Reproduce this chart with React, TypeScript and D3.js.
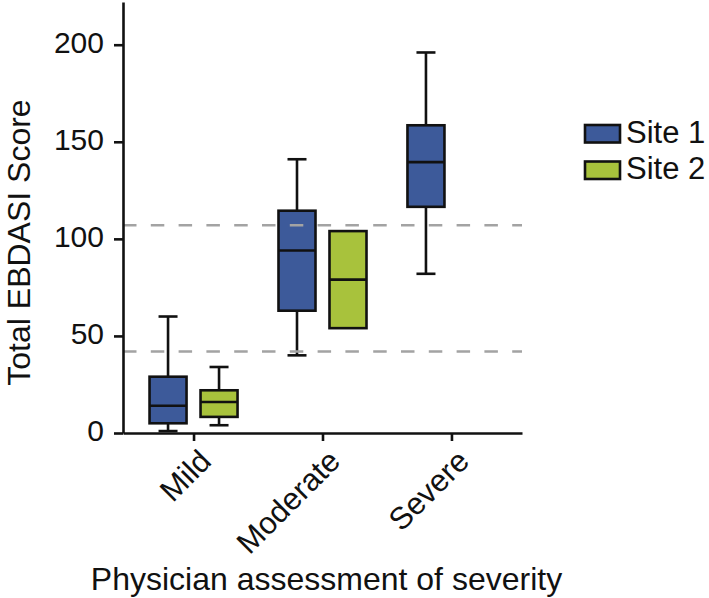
import React, { useEffect, useRef } from "react";
import * as d3 from "d3";

const categories = ["Mild", "Moderate", "Severe"];
const seriesNames = ["Site 1", "Site 2"];
const seriesColors = ["#3d5a9a", "#a8c23c"];

// Site 1 box statistics per category
const site1Min = [1, 40, 82];
const site1Q1 = [5, 63, 116.5];
const site1Median = [14, 94, 139.5];
const site1Q3 = [29, 114.5, 158.5];
const site1Max = [60, 141, 196];

// Site 2 box statistics per category (no Severe data)
const site2Min = [4, 54, null];
const site2Q1 = [8.3, 54, null];
const site2Median = [16, 79, null];
const site2Q3 = [22, 104, null];
const site2Max = [34, 104, null];

const yTicks = [0, 50, 100, 150, 200];
const referenceLines = [107, 42];

const yTitle = "Total EBDASI Score";
const xTitle = "Physician assessment of severity";

const FONT = "'Liberation Sans', Arial, Helvetica, sans-serif";

export default function App() {
  const ref = useRef<SVGSVGElement | null>(null);

  useEffect(() => {
    const svg = d3.select(ref.current);
    svg.selectAll("*").remove();

    const y = d3.scaleLinear().domain([0, 222]).range([433, 2]);
    const x = d3.scalePoint<string>().domain(categories).range([123, 522]).padding(0.547);
    const sub = d3.scalePoint<string>().domain(seriesNames).range([-25.5, 25.5]);
    const boxW = 37;
    const capW = 19;
    const sw = 2.6;

    const stats = [
      { min: site1Min, q1: site1Q1, med: site1Median, q3: site1Q3, max: site1Max },
      { min: site2Min, q1: site2Q1, med: site2Median, q3: site2Q3, max: site2Max },
    ];

    const boxes: any[] = [];
    stats.forEach((s, si) => {
      categories.forEach((c, ci) => {
        if (s.med[ci] == null) return;
        boxes.push({
          cat: c,
          series: seriesNames[si],
          color: seriesColors[si],
          min: s.min[ci],
          q1: s.q1[ci],
          med: s.med[ci],
          q3: s.q3[ci],
          max: s.max[ci],
        });
      });
    });

    const g = svg.append("g");

    boxes.forEach((b) => {
      const cx = (x(b.cat) as number) + (sub(b.series) as number);
      const bg = g.append("g");
      if (b.max > b.q3) {
        bg.append("line").attr("x1", cx).attr("x2", cx).attr("y1", y(b.q3)).attr("y2", y(b.max))
          .attr("stroke", "#111").attr("stroke-width", sw);
        bg.append("line").attr("x1", cx - capW / 2).attr("x2", cx + capW / 2).attr("y1", y(b.max)).attr("y2", y(b.max))
          .attr("stroke", "#111").attr("stroke-width", sw);
      }
      if (b.min < b.q1) {
        bg.append("line").attr("x1", cx).attr("x2", cx).attr("y1", y(b.q1)).attr("y2", y(b.min))
          .attr("stroke", "#111").attr("stroke-width", sw);
        bg.append("line").attr("x1", cx - capW / 2).attr("x2", cx + capW / 2).attr("y1", y(b.min)).attr("y2", y(b.min))
          .attr("stroke", "#111").attr("stroke-width", sw);
      }
      bg.append("rect")
        .attr("x", cx - boxW / 2)
        .attr("y", y(b.q3))
        .attr("width", boxW)
        .attr("height", y(b.q1) - y(b.q3))
        .attr("fill", b.color)
        .attr("stroke", "#111")
        .attr("stroke-width", sw);
      bg.append("line").attr("x1", cx - boxW / 2).attr("x2", cx + boxW / 2).attr("y1", y(b.med)).attr("y2", y(b.med))
        .attr("stroke", "#111").attr("stroke-width", sw);
    });

    g.selectAll("line.ref")
      .data(referenceLines)
      .join("line")
      .attr("class", "ref")
      .attr("x1", 123)
      .attr("x2", 522)
      .attr("y1", (d) => y(d))
      .attr("y2", (d) => y(d))
      .attr("stroke", "#a3a3a3")
      .attr("stroke-width", 2.4)
      .attr("stroke-dasharray", "13.5 14.3");

    const yAxis = svg.append("g")
      .attr("transform", "translate(123,0)")
      .call(d3.axisLeft(y).tickValues(yTicks).tickSize(9).tickSizeOuter(0).tickPadding(10));
    yAxis.select(".domain").attr("stroke", "#111").attr("stroke-width", sw);
    yAxis.selectAll(".tick line").attr("stroke", "#111").attr("stroke-width", sw);
    yAxis.selectAll(".tick text")
      .attr("fill", "#111")
      .attr("font-family", FONT)
      .attr("font-size", 30)
      .attr("dy", 7.5);

    const xAxis = svg.append("g")
      .attr("transform", "translate(0,433)")
      .call(d3.axisBottom(x).tickSize(8).tickSizeOuter(0));
    xAxis.select(".domain").attr("stroke", "#111").attr("stroke-width", sw);
    xAxis.selectAll(".tick line").attr("stroke", "#111").attr("stroke-width", sw);
    xAxis.selectAll(".tick text")
      .attr("fill", "#111")
      .attr("font-family", FONT)
      .attr("font-size", 31)
      .attr("text-anchor", "end")
      .attr("x", 0)
      .attr("y", 0)
      .attr("dy", 0)
      .attr("transform", "translate(19,30) rotate(-45)");

    svg.append("text")
      .attr("transform", "translate(30,242.5) rotate(-90)")
      .attr("text-anchor", "middle")
      .attr("font-family", FONT)
      .attr("font-size", 32)
      .attr("fill", "#111")
      .text(yTitle);
    svg.append("text")
      .attr("x", 326.5)
      .attr("y", 590)
      .attr("text-anchor", "middle")
      .attr("font-family", FONT)
      .attr("font-size", 32)
      .attr("fill", "#111")
      .text(xTitle);

    const lg = svg.append("g").attr("transform", "translate(585,125)");
    const items = lg.selectAll("g").data(seriesNames).join("g")
      .attr("transform", (_d, i) => `translate(0,${i * 36.5})`);
    items.append("rect")
      .attr("x", 0).attr("y", 0).attr("width", 35).attr("height", 17.5)
      .attr("fill", (_d, i) => seriesColors[i])
      .attr("stroke", "#111").attr("stroke-width", sw);
    items.append("text")
      .attr("x", 41).attr("y", 17.5)
      .attr("font-family", FONT)
      .attr("font-size", 31)
      .attr("fill", "#111")
      .text((d) => d);
  }, []);

  return (
    <svg
      ref={ref}
      width={709}
      height={598}
      style={{ position: "absolute", left: 0, top: 0, background: "#fff" }}
    />
  );
}
